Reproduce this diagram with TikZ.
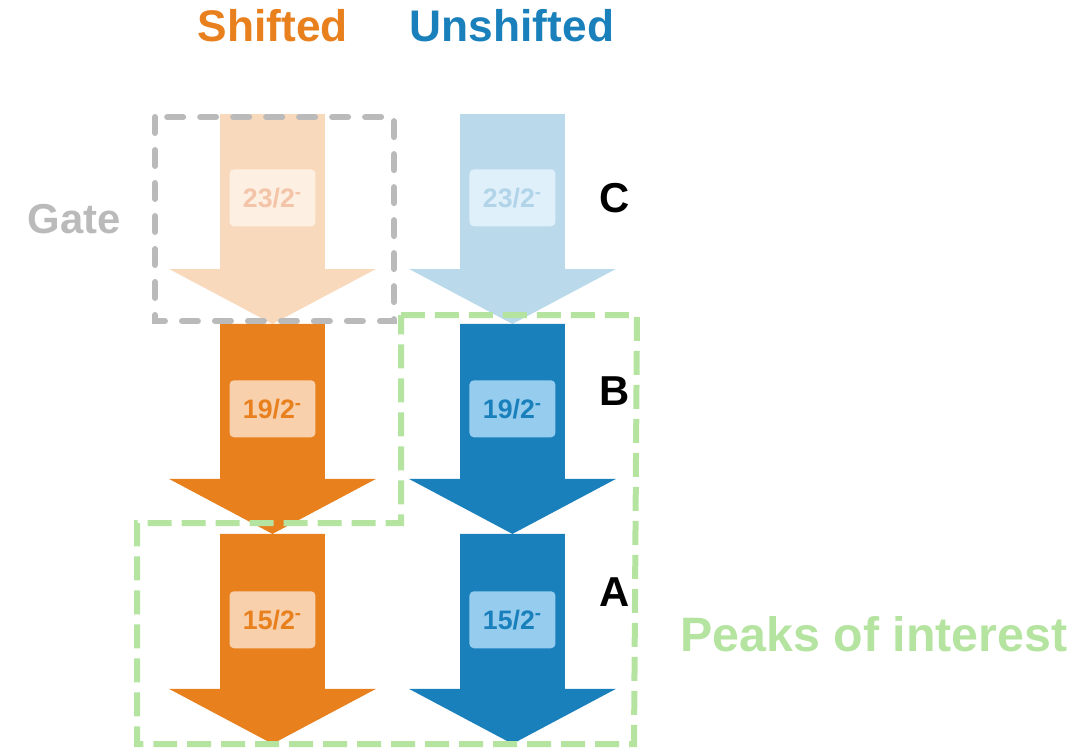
\documentclass[tikz,border=0pt]{standalone}
\usepackage{fontspec}
\setmainfont{Liberation Sans}
\usepackage{xcolor}
\usetikzlibrary{shapes.arrows,positioning}
\definecolor{shiftorange}{RGB}{232,128,30}
\definecolor{unshiftblue}{RGB}{26,128,187}
\definecolor{shiftlabel}{RGB}{248,208,172}
\definecolor{unshiftlabel}{RGB}{150,205,239}
\definecolor{gategray}{RGB}{186,186,186}
\definecolor{peakgreen}{RGB}{181,228,161}
\definecolor{fadedtext}{RGB}{244,196,168}

\begin{document}
\begin{tikzpicture}[x=0.02cm, y=-0.02cm]
    % Define styles
    \tikzstyle{decay} = [single arrow, rotate=-90, inner xsep=0pt, inner ysep=1.04cm, outer sep=0pt, minimum height=4.2cm, single arrow head extend=1.02cm, single arrow tip angle=124]
    \tikzstyle{level} = [rectangle, rounded corners=2.5pt, inner sep=0pt, minimum width=1.72cm, minimum height=1.14cm, font=\fontsize{15.2}{15}\selectfont\bfseries]
    \tikzstyle{title} = [font=\fontsize{25.2}{26}\selectfont\bfseries]
    \tikzstyle{band} = [font=\fontsize{23.8}{24}\selectfont\bfseries]
    \tikzstyle{gatebox} = [draw=gategray, line width=0.12cm, dash pattern=on 0.32cm off 0.34cm, line cap=round]
    \tikzstyle{peakbox} = [draw=peakgreen, line width=0.12cm, dash pattern=on 0.48cm off 0.2cm]

    \useasboundingbox (0,0) rectangle (1089,748);

    % Arrows
    \node (s23) [decay, fill=shiftorange!30, anchor=tail] at (272.5,114) {};
    \node (s19) [decay, fill=shiftorange, below=0pt of s23.tip, anchor=tail] {};
    \node (s15) [decay, fill=shiftorange, below=0pt of s19.tip, anchor=tail] {};
    \node (u23) [decay, fill=unshiftblue!30, right=4.8cm of s23.tail, anchor=tail] {};
    \node (u19) [decay, fill=unshiftblue, below=0pt of u23.tip, anchor=tail] {};
    \node (u15) [decay, fill=unshiftblue, below=0pt of u19.tip, anchor=tail] {};

    % Levels
    \node (l23s) [level, fill=shiftlabel!35, text=fadedtext, below=1.1cm of s23.tail] {23/2\textsuperscript{-}};
    \node (l19s) [level, fill=shiftlabel, text=shiftorange, below=1.12cm of s19.tail] {19/2\textsuperscript{-}};
    \node (l15s) [level, fill=shiftlabel, text=shiftorange, below=1.14cm of s15.tail] {15/2\textsuperscript{-}};
    \node (l23u) [level, fill=unshiftlabel!30, text=unshiftblue!34, below=1.1cm of u23.tail] {23/2\textsuperscript{-}};
    \node (l19u) [level, fill=unshiftlabel, text=unshiftblue, below=1.12cm of u19.tail] {19/2\textsuperscript{-}};
    \node (l15u) [level, fill=unshiftlabel, text=unshiftblue, below=1.14cm of u15.tail] {15/2\textsuperscript{-}};

    % Titles
    \node (shifted) [title, text=shiftorange] at (273,26) {Shifted};
    \node (unshifted) [title, text=unshiftblue] at (512,26) {Unshifted};
    \node (gate) [band, text=gategray] at (74,219) {Gate};
    \node (bandc) [band] at (615,198) {C};
    \node (bandb) [band] at (615,391) {B};
    \node (banda) [band] at (615,592) {A};
    \node (peaks) [font=\fontsize{27.5}{28}\selectfont\bfseries, text=peakgreen] at (874,634) {Peaks of interest};

    % Boxes
    \draw [gatebox] (155,117) rectangle (394,321);
    \draw [peakbox] (401,315) -- (637,315) -- (634,744) -- (137,744) -- (137,523) -- (401,523) -- cycle;
\end{tikzpicture}
\end{document}
